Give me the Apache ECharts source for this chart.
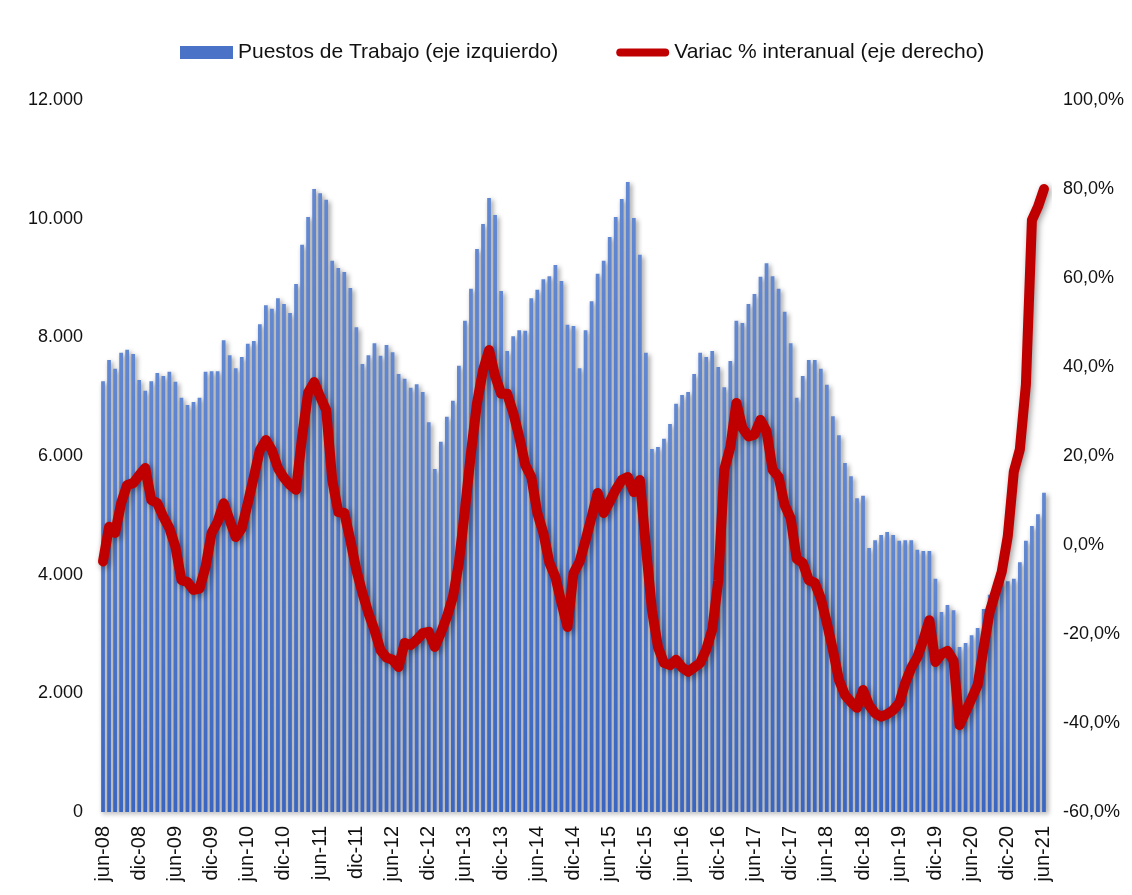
<!DOCTYPE html>
<html lang="es" style="height: 100%">
<head>
  <meta charset="utf-8">
  <title>puestos_trabajo</title>
  <script src="https://cdn.jsdelivr.net/npm/echarts@6/dist/echarts.min.js"></script>
  <style>
    html, body { height: 100%; margin: 0; background: #fff; }
    #container { width: 1132px; height: 895px; }
  </style>
</head>
<body>
  <div id="container"></div>
  <script type="text/javascript">
    // meses para armar las etiquetas jun-08 ... jun-21
    var mesesNombres = ['ene', 'feb', 'mar', 'abr', 'may', 'jun', 'jul', 'ago', 'sep', 'oct', 'nov', 'dic'];
    var inicio = { anio: 2008, mes: 5 };
    var totalMeses = 157;

    // Puestos de Trabajo (eje izquierdo)
    var puestos = [
      7260, 7620, 7470, 7740, 7790, 7720, 7280, 7100, 7260, 7400, 7350, 7420,
      7250, 6980, 6860, 6910, 6980, 7420, 7430, 7430, 7950, 7700, 7480, 7670,
      7890, 7940, 8220, 8540, 8480, 8660, 8560, 8410, 8900, 9560, 10030, 10500,
      10430, 10320, 9290, 9170, 9100, 8830, 8170, 7550, 7700, 7900, 7690, 7870,
      7750, 7380, 7300, 7150, 7210, 7080, 6570, 5780, 6240, 6660, 6930, 7520,
      8280, 8820, 9490, 9910, 10350, 10060, 8780, 7770, 8020, 8120, 8110, 8660,
      8800, 8980, 9030, 9220, 8950, 8210, 8190, 7480, 8120, 8610, 9070, 9290,
      9690, 10030, 10330, 10620, 10010, 9390, 7740, 6120, 6150, 6290, 6540, 6880,
      7030, 7080, 7380, 7740, 7670, 7770, 7500, 7160, 7600, 8280, 8240, 8560,
      8730, 9020, 9250, 9030, 8820, 8430, 7900, 6980, 7350, 7620, 7620, 7470,
      7200, 6670, 6350, 5880, 5660, 5290, 5330, 4450, 4580, 4670, 4720, 4670,
      4570, 4580, 4580, 4420, 4400, 4400, 3930, 3370, 3490, 3400, 2780, 2850,
      2980, 3100, 3420, 3660, 3890, 3890, 3890, 3930, 4210, 4570, 4820, 5020,
      5380
    ];

    // Variac % interanual (eje derecho)
    var variacion = [
      -3.7, 4.1, 2.7, 9.4, 13.5, 13.9, 15.7, 17.3, 10.1, 9.4, 6.3, 3.8,
      -0.4, -7.9, -8.3, -10.1, -9.8, -4.9, 2.7, 5.2, 9.4, 5.6, 1.8, 3.8,
      9.4, 15.3, 21.3, 23.6, 21.3, 17.3, 15.1, 13.5, 12.4, 24.3, 34.2, 36.6,
      33.3, 30.3, 14.6, 7.4, 7.2, 1.1, -5.6, -10.8, -15.3, -19.1, -23.6, -25.3,
      -25.8, -27.4, -22.0, -22.5, -21.3, -19.8, -19.5, -22.9, -19.8, -16.2, -11.7, -4.0,
      7.9, 20.7, 31.9, 39.3, 43.8, 38.0, 34.0, 34.0, 29.7, 24.3, 18.0, 15.3,
      7.2, 2.7, -4.0, -7.2, -13.0, -18.4, -6.3, -3.8, 1.1, 6.3, 11.7, 7.2,
      9.7, 12.4, 14.6, 15.3, 11.9, 14.6, -0.4, -14.6, -22.9, -26.5, -27.0, -25.8,
      -27.5, -28.5, -27.5, -26.5, -23.5, -19.0, -8.0, 17.0, 22.0, 31.9, 26.3, 24.4,
      24.8, 28.1, 25.6, 16.9, 15.3, 9.0, 6.0, -3.1, -4.0, -7.9, -8.5, -12.0,
      -17.5, -23.6, -30.3, -33.7, -35.3, -36.6, -32.6, -36.0, -37.8, -38.6, -38.0, -37.1,
      -35.5, -31.0, -27.6, -25.2, -21.3, -16.9, -26.3, -24.5, -23.8, -26.0, -40.5, -37.5,
      -34.5, -31.5, -23.0, -15.0, -10.5, -6.0, 2.0, 16.5, 21.5, 36.0, 73.0, 76.0,
      80.0
    ];

    var meses = [];
    for (var k = 0; k < totalMeses; k++) {
      var m = (inicio.mes + k) % 12;
      var a = inicio.anio + Math.floor((inicio.mes + k) / 12);
      meses.push(mesesNombres[m] + '-' + String(a).slice(-2));
    }

    var dom = document.getElementById('container');
    var myChart = echarts.init(dom, null, { renderer: 'canvas' });
    var fuente = 'Liberation Sans, Arial, sans-serif';

    function miles(v) {
      if (v < 1000) return String(v);
      return Math.floor(v / 1000) + '.' + ('000' + (v % 1000)).slice(-3);
    }

    var option = {
      backgroundColor: '#fff',
      animation: false,
      legend: {
        left: 175,
        top: 37,
        itemGap: 58,
        itemWidth: 53,
        itemHeight: 13,
        textStyle: { fontFamily: fuente, fontSize: 21, color: '#111' },
        data: [
          { name: 'Puestos de Trabajo (eje izquierdo)', icon: 'rect',
            itemStyle: { color: '#4a72c6', shadowBlur: 0, shadowOffsetX: 0, shadowOffsetY: 0 } },
          { name: 'Variac % interanual (eje derecho)',
            icon: 'path://M4,0 L49,0 A4,4 0 0 1 49,8 L4,8 A4,4 0 0 1 4,0 Z',
            itemStyle: { color: '#c00000', shadowBlur: 0 } }
        ]
      },
      grid: { left: 100, right: 85, top: 100, bottom: 83 },
      xAxis: {
        type: 'category',
        data: meses,
        axisLine: { show: false },
        axisTick: { show: false },
        axisLabel: {
          interval: 5,
          rotate: 90,
          margin: 14,
          fontFamily: fuente,
          fontSize: 20,
          color: '#111'
        }
      },
      yAxis: [
        {
          type: 'value',
          min: 0,
          max: 12000,
          interval: 2000,
          splitLine: { show: false },
          axisLine: { show: false },
          axisTick: { show: false },
          axisLabel: {
            margin: 17,
            fontFamily: fuente,
            fontSize: 18,
            color: '#111',
            formatter: miles
          }
        },
        {
          type: 'value',
          min: -60,
          max: 100,
          interval: 20,
          splitLine: { show: false },
          axisLine: { show: false },
          axisTick: { show: false },
          axisLabel: {
            margin: 16,
            fontFamily: fuente,
            fontSize: 18,
            color: '#111',
            formatter: function (v) { return v.toFixed(1).replace('.', ',') + '%'; }
          }
        }
      ],
      series: [
        {
          name: 'Puestos de Trabajo (eje izquierdo)',
          type: 'bar',
          data: puestos,
          barWidth: '62%',
          itemStyle: {
            color: new echarts.graphic.LinearGradient(0, 0, 0, 1, [
              { offset: 0, color: '#6288d2' },
              { offset: 1, color: '#3a66c2' }
            ]),
            shadowColor: 'rgba(0,0,0,0.45)',
            shadowBlur: 5,
            shadowOffsetX: 2,
            shadowOffsetY: 2
          }
        },
        {
          name: 'Variac % interanual (eje derecho)',
          type: 'line',
          yAxisIndex: 1,
          data: variacion,
          showSymbol: false,
          symbol: 'none',
          lineStyle: {
            color: '#c00000',
            width: 10,
            cap: 'round',
            join: 'round',
            shadowColor: 'rgba(0,0,0,0.4)',
            shadowBlur: 6,
            shadowOffsetX: 2,
            shadowOffsetY: 2
          },
          itemStyle: { color: '#c00000' },
          z: 5
        }
      ]
    };

    myChart.setOption(option);
    window.addEventListener('resize', myChart.resize);
  </script>
</body>
</html>
